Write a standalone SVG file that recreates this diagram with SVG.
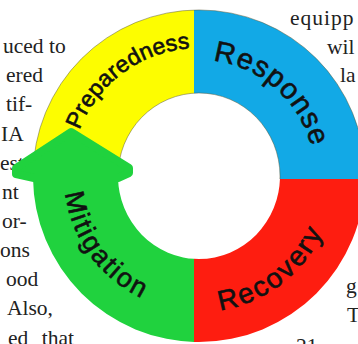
<svg xmlns="http://www.w3.org/2000/svg" width="358" height="344" viewBox="0 0 358 344">
  <style>
    .page { font-family: "Liberation Serif", "Times New Roman", serif; font-size: 21.5px; fill: #222; }
    .lbl { font-family: "Liberation Sans", Arial, sans-serif; fill: #111; stroke: #111; stroke-width: 0.6px; }
    .edge { stroke: #5a5a3a; stroke-width: 0.7; stroke-opacity: 0.7; }
  </style>
  <defs>
    <path id="ring" fill-rule="evenodd" d="M 33,176 A 166 166 0 1 0 365,176 A 166 166 0 1 0 33,176 Z M 118,176 A 81 83 0 1 0 280,176 A 81 83 0 1 0 118,176 Z"/>
    <clipPath id="cTL"><rect x="0" y="0" width="194" height="179"/></clipPath>
    <clipPath id="cTR"><rect x="194" y="0" width="164" height="179"/></clipPath>
    <clipPath id="cBR"><rect x="194" y="179" width="164" height="165"/></clipPath>
    <clipPath id="cBL"><rect x="0" y="179" width="194" height="165"/></clipPath>
    <path id="pPrep" d="M 71,176 A 128 128 0 0 1 327,176"/>
    <path id="pResp" d="M 83,176 A 116 116 0 0 1 315,176"/>
    <path id="pMit" d="M 64,176 A 135 135 0 0 0 334,176"/>
    <path id="pRec" d="M 63,176 A 136 136 0 0 0 335,176"/>
  </defs>
  <rect width="358" height="344" fill="#ffffff"/>
  <g id="page-text" class="page">
    <text x="3" y="53">uced to</text>
    <text x="6" y="82">ered</text>
    <text x="6" y="111">tif-</text>
    <text x="1" y="141">IA</text>
    <text x="0" y="170">est-</text>
    <text x="2" y="199">nt</text>
    <text x="2" y="228">or-</text>
    <text x="0" y="257">ons</text>
    <text x="6" y="286">ood</text>
    <text x="7" y="315">Also,</text>
    <text x="8" y="345" word-spacing="8">ed that</text>
    <text x="290" y="25" letter-spacing="1">equipp</text>
    <text x="327" y="54">wil</text>
    <text x="340" y="82">la</text>
    <text x="346" y="293">g</text>
    <text x="347" y="322">T</text>
    <text x="296" y="353">21</text>
  </g>
  <g id="preparedness">
    <use href="#ring" fill="#fdfd00" clip-path="url(#cTL)"/>
    <use href="#ring" fill="none" class="edge" clip-path="url(#cTL)"/>
    <text class="lbl" font-size="23" text-anchor="middle"><textPath href="#pPrep" startOffset="29.7%" textLength="145" lengthAdjust="spacing">Preparedness</textPath></text>
  </g>
  <g id="response">
    <use href="#ring" fill="#12a9e6" clip-path="url(#cTR)"/>
    <use href="#ring" fill="none" class="edge" clip-path="url(#cTR)"/>
    <text class="lbl" font-size="29" text-anchor="middle"><textPath href="#pResp" startOffset="72.8%" textLength="138" lengthAdjust="spacing">Response</textPath></text>
  </g>
  <g id="recovery">
    <use href="#ring" fill="#fe1d10" clip-path="url(#cBR)"/>
    <text class="lbl" font-size="28" text-anchor="middle"><textPath href="#pRec" startOffset="70.6%" textLength="134" lengthAdjust="spacing">Recovery</textPath></text>
  </g>
  <g id="mitigation">
    <use href="#ring" fill="#20d23e" clip-path="url(#cBL)"/>
    <text class="lbl" font-size="27" text-anchor="middle"><textPath href="#pMit" startOffset="20%" textLength="135" lengthAdjust="spacing">Mitigation</textPath></text>
  </g>
  <g id="connectors">
    <polygon points="71,132 16,168 16,174 34,178 118,178 129,173 129,168" fill="#20d23e" stroke="#20d23e" stroke-width="8" stroke-linejoin="round"/>
  </g>
</svg>
